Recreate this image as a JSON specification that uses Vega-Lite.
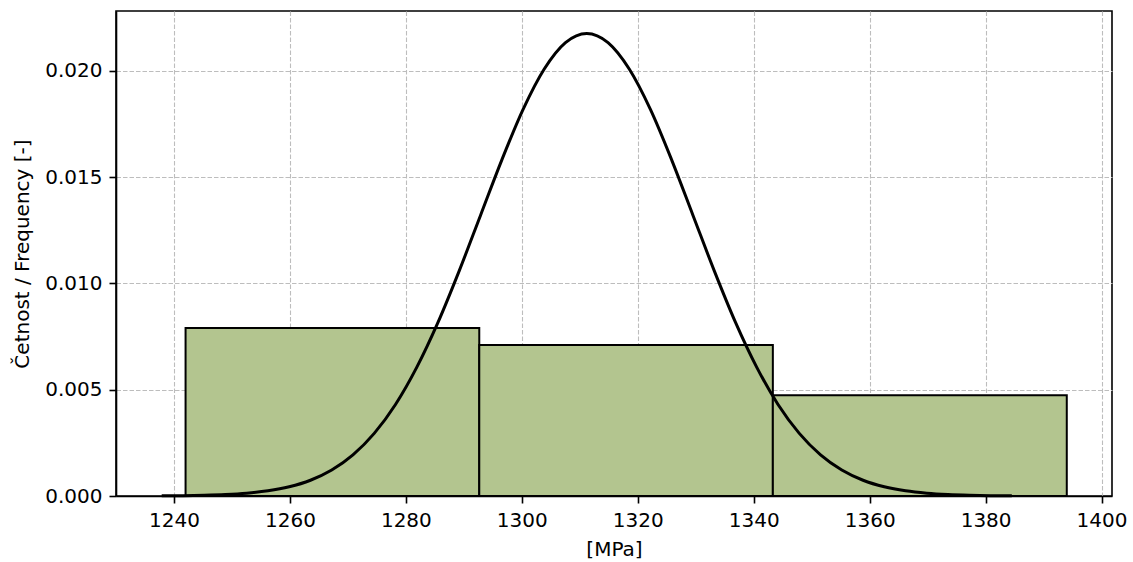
{
  "$schema": "https://vega.github.io/schema/vega-lite/v6.json",
  "width": 996,
  "height": 485,
  "autosize": {"type": "none"},
  "padding": {"left": 116, "top": 11, "right": 21, "bottom": 66},
  "background": "white",
  "config": {
    "font": "DejaVu Sans",
    "view": {"stroke": "black", "strokeWidth": 1.6},
    "axis": {
      "labelFont": "DejaVu Sans",
      "titleFont": "DejaVu Sans",
      "labelFontSize": 20,
      "titleFontSize": 20,
      "titleFontWeight": "normal",
      "labelColor": "black",
      "titleColor": "black",
      "domainColor": "black",
      "domainWidth": 1.6,
      "tickColor": "black",
      "tickWidth": 1.6,
      "tickSize": 7,
      "gridColor": "#bdbdbd",
      "gridDash": [4.5, 2],
      "gridWidth": 1.1
    }
  },
  "datasets": {
    "bins": [
      {"x0": 1242.0, "x1": 1292.66, "density": 0.00790},
      {"x0": 1292.66, "x1": 1343.3, "density": 0.00711},
      {"x0": 1343.3, "x1": 1394.0, "density": 0.00474}
    ],
    "curve": [
      {"x": 1237.88, "pdf": 0.0000073},
      {"x": 1241.55, "pdf": 0.0000159},
      {"x": 1245.21, "pdf": 0.0000334},
      {"x": 1248.88, "pdf": 0.0000672},
      {"x": 1252.54, "pdf": 0.000130},
      {"x": 1256.21, "pdf": 0.000242},
      {"x": 1259.88, "pdf": 0.000432},
      {"x": 1263.54, "pdf": 0.000741},
      {"x": 1267.21, "pdf": 0.001222},
      {"x": 1270.87, "pdf": 0.001935},
      {"x": 1274.54, "pdf": 0.002946},
      {"x": 1278.21, "pdf": 0.004307},
      {"x": 1281.87, "pdf": 0.006052},
      {"x": 1285.54, "pdf": 0.008169},
      {"x": 1289.20, "pdf": 0.010594},
      {"x": 1292.87, "pdf": 0.013201},
      {"x": 1296.54, "pdf": 0.015805},
      {"x": 1300.20, "pdf": 0.018180},
      {"x": 1303.87, "pdf": 0.020092},
      {"x": 1307.53, "pdf": 0.021334},
      {"x": 1311.20, "pdf": 0.021765},
      {"x": 1314.87, "pdf": 0.021334},
      {"x": 1318.53, "pdf": 0.020092},
      {"x": 1322.20, "pdf": 0.018180},
      {"x": 1325.86, "pdf": 0.015805},
      {"x": 1329.53, "pdf": 0.013201},
      {"x": 1333.20, "pdf": 0.010594},
      {"x": 1336.86, "pdf": 0.008169},
      {"x": 1340.53, "pdf": 0.006052},
      {"x": 1344.19, "pdf": 0.004307},
      {"x": 1347.86, "pdf": 0.002946},
      {"x": 1351.53, "pdf": 0.001935},
      {"x": 1355.19, "pdf": 0.001222},
      {"x": 1358.86, "pdf": 0.000741},
      {"x": 1362.52, "pdf": 0.000432},
      {"x": 1366.19, "pdf": 0.000242},
      {"x": 1369.86, "pdf": 0.000130},
      {"x": 1373.52, "pdf": 0.0000672},
      {"x": 1377.19, "pdf": 0.0000334},
      {"x": 1380.85, "pdf": 0.0000159},
      {"x": 1384.52, "pdf": 0.0000073}
    ]
  },
  "layer": [
    {
      "data": {"name": "bins"},
      "mark": {"type": "rect", "fill": "#b3c58f", "stroke": "black", "strokeWidth": 2},
      "encoding": {
        "x": {
          "field": "x0", "type": "quantitative",
          "scale": {"domain": [1230.0, 1401.8], "nice": false, "zero": false},
          "axis": {
            "title": "[MPa]",
            "values": [1240, 1260, 1280, 1300, 1320, 1340, 1360, 1380, 1400],
            "format": "d",
            "labelPadding": 7,
            "titlePadding": 9
          }
        },
        "x2": {"field": "x1"},
        "y": {
          "field": "density", "type": "quantitative",
          "scale": {"domain": [0, 0.02282], "nice": false},
          "axis": {
            "title": "Četnost / Frequency [-]",
            "values": [0, 0.005, 0.01, 0.015, 0.02],
            "format": ".3f",
            "labelPadding": 7,
            "titlePadding": 12
          }
        },
        "y2": {"datum": 0}
      }
    },
    {
      "data": {"name": "curve"},
      "mark": {"type": "line", "color": "black", "strokeWidth": 3, "interpolate": "monotone"},
      "encoding": {
        "x": {"field": "x", "type": "quantitative"},
        "y": {"field": "pdf", "type": "quantitative"}
      }
    }
  ]
}
